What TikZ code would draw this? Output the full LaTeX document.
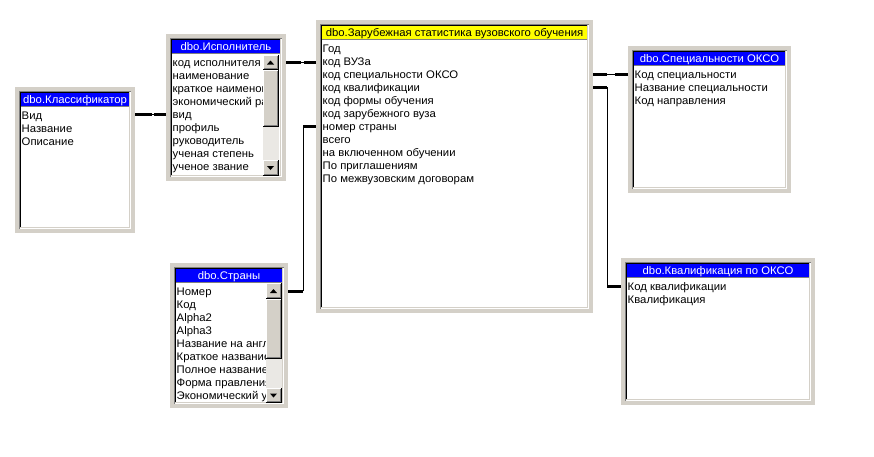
\documentclass[tikz,border=0pt]{standalone}
\usepackage{fontspec}
\setmainfont[FakeStretch=1.03]{Liberation Sans}
\definecolor{winbg}{HTML}{D4D0C8}
\definecolor{windark}{HTML}{808080}
\definecolor{track}{HTML}{EAE8E4}
\definecolor{hblue}{HTML}{0000FF}
\definecolor{hyellow}{HTML}{FFFF00}
\tikzset{
  hb-fill/.style={fill=hblue},
  hb-text/.style={anchor=base,inner sep=0pt,text=white,font=\fontsize{11}{13}\selectfont},
  hy-fill/.style={fill=hyellow},
  hy-text/.style={anchor=base,inner sep=0pt,text=black,font=\fontsize{11}{13}\selectfont},
  rowtxt/.style={anchor=base west,inner sep=0pt,font=\fontsize{11}{13}\selectfont},
  thk/.style={line width=3pt},
  thn/.style={line width=1pt},
}
\newcommand\dbtable[9]{%
  \fill[winbg] (#2,#3) rectangle (#4,#5);
  \fill[white] (#2+4,#3+4) rectangle (#4-4,#5-4);
  \draw[windark] (#2+4.5,#5-4) -- (#2+4.5,#3+4.5) -- (#4-4,#3+4.5);
  \draw[black] (#2+5.5,#5-5) -- (#2+5.5,#3+5.5) -- (#4-5,#3+5.5);
  \draw[winbg] (#2+5,#5-5.5) -- (#4-5.5,#5-5.5) -- (#4-5.5,#3+5);
  \fill[#7-fill] (#2+6,#3+6) rectangle (#4-6,#3+19);
  \draw[windark] (#2+6,#3+19.5) -- (#4-6,#3+19.5);
  \node[#7-text,name=#1-h] at ({(#2+#4)/2},#3+16.5) {#6};
  \begin{scope}
    \clip (#2+6,#3+20) rectangle (#9,#5-6);
    \foreach \t [count=\i] in {#8}
      \node[rowtxt,name=#1-\i] at (#2+6.5,{#3+32+13*(\i-1)}) {\t};
  \end{scope}
}
\newcommand\winbtn[4]{%
  \fill[winbg] (#1,#2) rectangle (#3,#4);
  \draw[white] (#1+0.5,#4-1) -- (#1+0.5,#2+0.5) -- (#3-1,#2+0.5);
  \draw[black] (#1,#4-0.5) -- (#3-0.5,#4-0.5) -- (#3-0.5,#2);
  \draw[windark] (#1+1,#4-1.5) -- (#3-1.5,#4-1.5) -- (#3-1.5,#2+1);
}
\newcommand\sbar[7]{%
  \fill[track] (#1,#3) rectangle (#2,#7);
  \winbtn{#1}{#3}{#2}{#4}
  \winbtn{#1}{#4}{#2}{#5}
  \winbtn{#1}{#6}{#2}{#7}
  \fill[black] ({(#1+#2)/2-4},{(#3+#4)/2+2}) -- ({(#1+#2)/2+3},{(#3+#4)/2+2}) -- ({(#1+#2)/2-0.5},{(#3+#4)/2-2}) -- cycle;
  \fill[black] ({(#1+#2)/2-4},{(#6+#7)/2-2}) -- ({(#1+#2)/2+3},{(#6+#7)/2-2}) -- ({(#1+#2)/2-0.5},{(#6+#7)/2+2}) -- cycle;
}
\begin{document}
\begin{tikzpicture}[x=1pt,y=-1pt]
\useasboundingbox (0,0) rectangle (874,456);
\fill[white] (0,0) rectangle (874,456);

\dbtable{kls}{15}{87}{135}{233}{dbo.Классификатор}{hb}{Вид,Название,Описание}{129}
\dbtable{isp}{166}{34}{286}{181}{dbo.Исполнитель}{hb}{код исполнителя,наименование,краткое наименование,экономический район,вид,профиль,руководитель,ученая степень,ученое звание}{263}
\sbar{263}{279}{55}{70}{127}{160}{176}
\dbtable{zar}{316}{20}{593}{313}{dbo.Зарубежная статистика вузовского обучения}{hy}{Год,код ВУЗа,код специальности ОКСО,код квалификации,код формы обучения,код зарубежного вуза,номер страны,всего,на включенном обучении,По приглашениям,По межвузовским договорам}{587}
\dbtable{spc}{628}{46}{791}{193}{dbo.Специальности ОКСО}{hb}{Код специальности,Название специальности,Код направления}{785}
\dbtable{kvl}{621}{258}{815}{405}{dbo.Квалификация по ОКСО}{hb}{Код квалификации,Квалификация}{809}
\dbtable{str}{170}{263}{288}{408}{dbo.Страны}{hb}{Номер,Код,Alpha2,Alpha3,Название на английском,Краткое название,Полное название,Форма правления,Экономический уровень}{266}
\sbar{266}{282}{283}{299}{359}{388}{403}

% connection points
\coordinate (klsR) at (135,114);
\coordinate (ispL) at (166,114);
\coordinate (ispR) at (286,62);
\coordinate (zarL1) at (316,62);
\coordinate (strR) at (288,291);
\coordinate (b3a) at (303,291);
\coordinate (b3b) at (303,126.5);
\coordinate (zarL2) at (316,126.5);
\coordinate (zarR1) at (593,74);
\coordinate (spcL) at (628,74);
\coordinate (zarR2) at (593,87);
\coordinate (b5a) at (607,87);
\coordinate (b5b) at (607,286);
\coordinate (kvlL) at (621,286);

% Классификатор - Исполнитель
\draw[thn] (klsR) -- (ispL);
\draw[thk] (klsR) -- ++(17,0);
\draw[thk] (ispL) -- ++(-12,0);
% Исполнитель - main
\draw[thn] (ispR) -- (zarL1);
\draw[thk] (ispR) -- ++(15,0);
\draw[thk] (zarL1) -- ++(-12,0);
% Страны - main
\draw[thk] (strR) -- (b3a);
\draw[thn] (b3a) -- (b3b);
\draw[thk] (b3b) -- (zarL2);
% main - Специальности
\draw[thn] (zarR1) -- (spcL);
\draw[thk] (zarR1) -- ++(14,0);
\draw[thk] (spcL) -- ++(-13,0);
% main - Квалификация
\draw[thk] (zarR2) -- (b5a);
\draw[thn] (b5a) -- (b5b);
\draw[thk] (b5b) -- (kvlL);
\end{tikzpicture}
\end{document}
